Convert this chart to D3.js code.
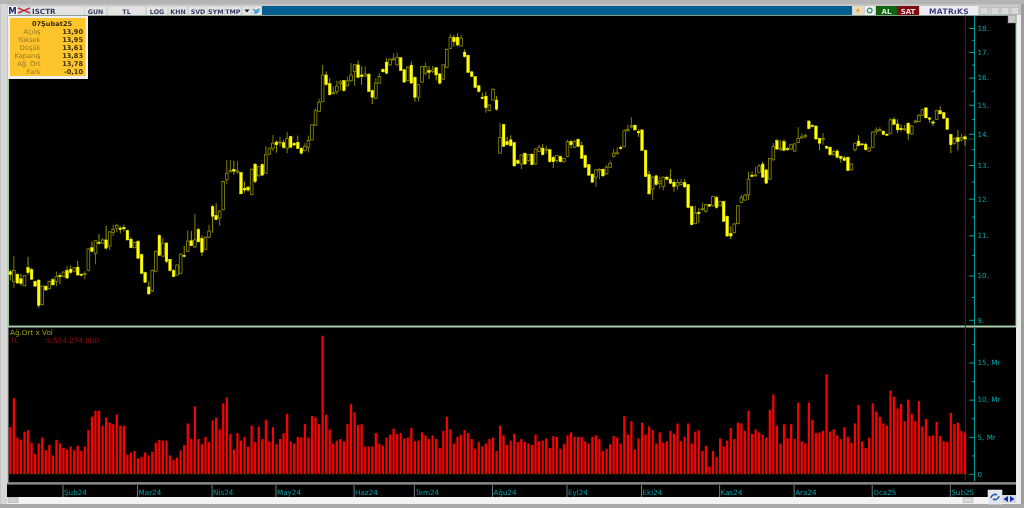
<!DOCTYPE html>
<html>
<head>
<meta charset="utf-8">
<script src="https://d3js.org/d3.v7.min.js"></script>
<style>
  html, body { margin: 0; padding: 0; background: #c4c4c4; overflow: hidden; }
  svg { display: block; filter: blur(0.35px); }
  text { font-family: "DejaVu Sans", sans-serif; }
</style>
</head>
<body>
<div class="chart-div"></div>
<script>
// open, high, low, close per trading day (ISCTR, daily)
const ohlc = [
[10.09,10.14,9.88,10.02],[9.86,10.47,9.71,10.12],[10.03,10.05,9.81,9.82],[9.92,10.04,9.76,9.81],[9.76,10.01,9.75,10.00],
[10.19,10.45,10.01,10.07],[10.14,10.18,9.90,9.91],[9.86,9.88,9.73,9.75],[9.89,9.91,9.26,9.31],[9.33,9.76,9.32,9.75],
[9.75,9.76,9.64,9.66],[9.69,9.88,9.67,9.86],[9.90,9.94,9.76,9.78],[9.86,10.09,9.75,9.97],[10.00,10.05,9.79,9.97],
[9.97,10.10,9.96,10.08],[10.12,10.22,9.91,9.94],[10.15,10.24,10.04,10.07],[10.10,10.20,10.07,10.18],[10.20,10.35,9.99,10.01],
[10.03,10.05,9.98,10.00],[10.03,10.10,9.91,10.05],[10.12,10.67,10.10,10.65],[10.68,10.84,10.57,10.59],[10.54,10.88,10.27,10.86],
[10.82,11.03,10.76,10.79],[10.80,10.92,10.78,10.88],[10.88,11.25,10.64,10.67],[10.72,11.11,10.62,11.09],[11.07,11.28,10.98,11.16],
[11.19,11.31,11.09,11.26],[11.19,11.25,11.05,11.15],[11.21,11.28,11.10,11.17],[11.13,11.15,10.87,10.88],[10.90,10.95,10.67,10.68],
[10.68,10.83,10.67,10.82],[10.84,10.88,10.39,10.42],[10.51,10.53,10.03,10.05],[10.07,10.09,9.82,9.84],[9.73,9.86,9.55,9.57],
[9.64,10.14,9.61,10.12],[10.10,10.61,10.07,10.59],[11.00,11.02,10.47,10.49],[10.47,10.93,10.45,10.80],[10.80,10.82,10.30,10.34],
[10.39,10.40,10.09,10.12],[10.12,10.15,9.96,9.97],[10.01,10.27,10.00,10.25],[10.05,10.54,10.03,10.52],[10.49,10.73,10.44,10.46],
[10.59,11.13,10.58,10.85],[10.86,11.11,10.72,10.73],[10.70,11.58,10.68,10.88],[11.16,11.19,10.82,10.83],[10.92,11.00,10.47,10.57],
[10.64,10.97,10.62,10.95],[10.95,11.28,10.93,11.11],[11.78,11.82,11.07,11.51],[11.53,11.87,11.40,11.42],[11.46,11.69,11.25,11.65],
[11.69,12.53,11.67,12.50],[12.55,13.16,12.43,12.75],[12.80,13.15,12.75,12.84],[12.87,13.13,12.70,12.81],[12.78,13.12,12.73,12.82],
[12.77,12.79,12.12,12.14],[12.30,12.50,12.17,12.25],[12.33,12.38,12.20,12.25],[12.12,12.89,12.10,12.87],[13.03,13.05,12.45,12.50],
[12.67,12.97,12.65,12.95],[13.02,13.05,12.67,12.69],[12.75,13.59,12.73,13.32],[13.34,13.55,13.32,13.53],[13.53,13.96,13.43,13.69],
[13.73,13.78,13.39,13.64],[13.70,13.90,13.59,13.73],[13.71,13.80,13.52,13.55],[13.53,14.07,13.37,13.85],[13.91,13.94,13.54,13.56],
[13.69,13.72,13.60,13.63],[13.72,13.94,13.50,13.52],[13.53,13.56,13.32,13.37],[13.46,13.69,13.43,13.59],[13.56,13.94,13.39,13.78],
[13.80,14.33,13.78,14.30],[14.29,14.87,14.26,14.79],[14.77,15.21,14.75,15.09],[15.11,16.49,15.09,16.10],[16.10,16.23,15.70,15.73],
[15.77,15.98,15.33,15.36],[15.40,15.67,15.37,15.44],[15.47,15.88,15.37,15.68],[15.77,15.91,15.52,15.84],[15.89,15.91,15.48,15.51],
[15.69,16.04,15.67,15.88],[15.88,16.56,15.85,16.10],[16.23,16.53,15.69,16.49],[16.49,16.66,15.98,16.01],[16.10,16.43,15.73,16.04],
[16.06,16.43,16.01,16.14],[16.13,16.17,15.46,15.48],[15.52,15.54,15.02,15.27],[15.23,15.98,15.21,15.79],[15.79,16.17,15.77,16.04],
[16.32,16.35,16.19,16.22],[16.60,16.75,16.12,16.17],[16.49,16.75,16.45,16.71],[16.69,16.95,16.66,16.73],[16.49,16.97,16.47,16.79],
[16.77,16.79,16.25,16.27],[16.30,16.32,15.80,15.83],[15.89,16.43,15.86,16.40],[16.48,16.62,15.77,15.79],[16.01,16.04,15.11,15.27],
[15.27,15.75,15.12,15.73],[15.83,16.45,15.80,16.43],[16.17,16.58,16.10,16.43],[16.27,16.45,15.94,16.20],[16.23,16.45,16.17,16.30],
[16.38,16.40,15.89,16.10],[16.14,16.17,15.74,15.79],[15.94,16.51,15.91,16.49],[16.40,17.15,16.36,17.11],[17.15,17.74,17.13,17.61],
[17.60,17.71,17.22,17.42],[17.61,17.78,17.22,17.29],[17.25,17.71,17.22,17.57],[17.00,17.11,16.78,16.82],[16.87,16.90,16.17,16.20],
[16.22,16.25,16.01,16.04],[16.04,16.06,15.60,15.63],[15.69,15.73,15.44,15.48],[15.27,15.44,15.20,15.22],[15.31,15.47,14.72,14.90],
[14.79,15.01,14.77,14.99],[15.17,15.60,15.15,15.56],[15.17,15.32,14.79,14.84],[13.37,14.37,13.35,13.88],[14.31,14.33,13.56,13.59],
[13.74,13.90,13.62,13.64],[13.80,13.95,13.59,13.61],[13.71,13.73,12.95,12.97],[13.14,13.18,13.03,13.05],[13.03,13.33,12.87,13.31],
[13.37,13.39,13.01,13.03],[13.14,13.34,13.11,13.32],[13.34,13.36,12.99,13.01],[13.03,13.52,13.01,13.50],[13.42,13.64,13.40,13.56],
[13.53,13.67,13.30,13.32],[13.46,13.61,13.35,13.50],[13.48,13.50,13.07,13.10],[13.24,13.29,12.91,13.10],[13.14,13.31,13.07,13.29],
[13.27,13.29,13.08,13.10],[13.10,13.23,13.07,13.21],[13.27,13.80,13.24,13.74],[13.74,13.80,13.53,13.64],[13.56,13.80,13.53,13.74],
[13.82,13.84,13.56,13.59],[13.61,13.74,13.19,13.21],[13.30,13.32,12.91,12.93],[13.01,13.03,12.67,12.69],[12.72,12.74,12.46,12.48],
[12.63,12.87,12.34,12.85],[12.82,12.90,12.57,12.86],[12.87,12.89,12.63,12.67],[12.73,13.00,12.71,12.93],[12.93,13.14,12.91,13.05],
[13.27,13.50,13.24,13.37],[13.35,13.56,13.33,13.40],[13.56,13.61,13.48,13.52],[13.59,14.15,13.56,14.10],[14.10,14.31,14.08,14.15],
[14.23,14.56,14.18,14.26],[14.29,14.31,14.10,14.13],[14.08,14.15,13.90,14.03],[14.13,14.15,13.44,13.46],[13.46,13.48,12.63,12.65],
[12.71,12.82,12.10,12.14],[12.28,12.65,11.96,12.63],[12.67,12.70,12.38,12.41],[12.44,12.65,12.28,12.51],[12.35,12.65,12.24,12.63],
[12.63,12.67,12.53,12.57],[12.57,12.87,12.43,12.45],[12.48,12.57,12.20,12.35],[12.37,12.57,12.25,12.47],[12.41,12.57,12.37,12.47],
[12.47,12.57,12.32,12.34],[12.41,12.43,11.73,11.75],[11.78,11.80,11.26,11.28],[11.31,11.80,11.29,11.60],[11.62,11.74,11.33,11.58],
[11.69,11.89,11.65,11.72],[11.65,11.85,11.60,11.83],[11.83,11.85,11.77,11.79],[11.80,12.08,11.78,12.06],[12.03,12.08,11.72,11.75],
[11.80,11.94,11.78,11.92],[11.92,11.94,11.35,11.37],[11.51,11.53,10.97,10.98],[11.05,11.24,10.90,10.98],[11.07,11.33,11.05,11.30],
[11.31,11.82,11.29,11.80],[11.89,12.12,11.87,12.04],[11.96,12.14,11.94,12.10],[12.11,12.80,11.96,12.57],[12.69,12.80,12.63,12.65],
[12.67,12.95,12.63,12.70],[12.77,13.03,12.75,12.97],[13.03,13.10,12.61,12.63],[12.85,12.87,12.43,12.45],[12.57,13.22,12.55,13.20],
[13.16,13.69,13.14,13.59],[13.77,13.84,13.48,13.50],[13.48,13.80,13.46,13.53],[13.74,13.82,13.44,13.46],[13.52,13.56,13.44,13.48],
[13.50,13.67,13.48,13.64],[13.44,13.69,13.41,13.67],[13.71,14.22,13.69,13.85],[13.86,14.01,13.84,13.90],[13.90,14.01,13.85,13.94],
[14.43,14.47,14.15,14.17],[14.29,14.31,14.22,14.24],[14.26,14.29,13.80,13.83],[13.85,13.87,13.46,13.69],[13.81,14.03,13.64,13.85],
[13.59,13.61,13.50,13.53],[13.56,13.59,13.29,13.32],[13.32,13.48,13.29,13.42],[13.44,13.50,13.21,13.24],[13.27,13.29,13.07,13.20],
[13.22,13.29,13.12,13.14],[13.24,13.27,12.81,12.83],[12.85,13.05,12.83,13.03],[13.48,13.71,13.42,13.69],[13.76,13.95,13.59,13.61],
[13.67,13.69,13.61,13.64],[13.66,13.71,13.46,13.48],[13.44,13.56,13.41,13.54],[13.56,14.08,13.54,14.06],[14.08,14.22,13.95,14.13],
[14.10,14.22,14.08,14.14],[14.09,14.11,13.96,13.98],[13.99,14.01,13.93,13.95],[14.01,14.53,13.99,14.47],[14.48,14.56,14.29,14.32],
[14.33,14.49,14.03,14.13],[14.18,14.30,14.07,14.14],[14.14,14.30,14.09,14.17],[14.36,14.38,13.80,14.01],[13.99,14.30,13.97,14.26],
[14.39,14.47,14.36,14.43],[14.41,14.68,14.39,14.63],[14.63,14.85,14.61,14.82],[14.89,14.91,14.52,14.54],[14.54,14.56,14.38,14.49],
[14.40,14.47,14.26,14.36],[14.49,14.82,14.47,14.79],[14.79,14.95,14.66,14.68],[14.72,14.75,14.49,14.53],[14.53,14.55,14.13,14.15],
[13.98,14.01,13.37,13.64],[13.69,13.87,13.64,13.85],[13.87,14.13,13.46,13.74],[13.80,14.01,13.74,13.88],[13.90,13.95,13.61,13.83]
];

// weighted average x volume per day, in billions (Mr)
const volumes = [
6.3,10.2,4.9,4.6,5.7,5.9,4.2,2.7,4.1,4.9,3.2,3.9,2.5,4.6,4.1,3.5,3.3,3.7,3.2,3.8,3.1,3.7,5.9,7.7,8.5,8.5,6.5,7.6,6.9,6.7,
8.0,6.5,6.5,2.6,2.9,3.1,2.1,2.3,2.9,2.5,3.0,4.2,4.6,4.5,4.5,2.5,1.9,2.2,3.2,3.9,6.8,4.7,9.1,4.7,4.0,5.0,4.3,7.2,7.6,6.0,
9.5,10.3,5.4,3.3,5.5,4.5,5.0,3.7,6.5,4.3,6.4,4.7,7.3,4.4,6.3,4.0,4.7,5.5,8.1,4.4,4.1,5.0,4.9,6.7,4.9,7.8,7.6,6.7,18.6,8.0,
6.0,4.1,4.5,
4.7,4.4,6.7,9.4,8.3,6.6,6.7,3.7,3.7,3.7,5.5,4.1,3.8,4.9,5.3,6.1,5.4,5.5,4.8,4.9,6.2,4.4,4.5,5.6,5.2,4.7,5.2,4.7,3.5,5.8,
7.7,6.0,4.1,5.0,5.3,5.9,5.5,4.7,3.4,4.3,3.7,4.1,4.7,4.9,3.1,6.5,5.2,3.9,4.5,5.4,4.3,4.7,4.3,4.1,3.9,5.3,4.4,4.5,4.8,3.5,
5.1,5.0,3.4,4.0,5.2,5.6,5.0,5.0,5.0,4.4,4.1,5.0,5.2,4.7,3.1,3.4,4.0,5.1,4.9,4.1,7.8,5.3,7.1,3.3,4.8,6.9,5.3,6.4,5.9,4.1,
5.6,4.2,4.4,5.8,5.4,6.8,
4.4,5.0,6.8,4.1,5.7,5.9,3.1,3.8,1.0,3.1,2.3,4.8,3.7,4.5,6.2,4.7,6.9,6.8,5.8,8.5,5.4,6.0,5.6,5.3,4.9,8.6,10.7,6.5,4.1,6.7,
4.8,6.7,4.7,9.6,4.4,4.1,9.6,7.3,5.5,5.6,5.8,13.4,5.7,6.0,5.2,4.7,6.3,5.0,4.2,6.8,9.3,4.4,3.5,4.9,9.5,8.4,7.7,6.8,6.5,11.2,
10.4,8.8,9.4,7.1,10.0,8.1,7.1,9.8,6.4,7.4,5.1,5.2,7.0,5.1,4.4,4.3,8.2,6.7,6.9,5.8,5.6
];

// month labels on the date strip and the bar each month starts at
const monthLabels = ["Şub24","Mar24","Nis24","May24","Haz24","Tem24","Ağu24","Eyl24","Eki24","Kas24","Ara24","Oca25","Şub25"];
const monthStarts = [15,36,57,75,97,114,136,157,178,200,221,243,265];

const priceTicks = [9,10,11,12,13,14,15,16,17,18];
const priceMinorTicks = [9.5,10.5,11.5,12.5,13.5,14.5,15.5,16.5,17.5];
const volumeTicks = [0,5,10,15];
const volumeMinorTicks = [2.5,7.5,12.5,17.5];

// values of the last day, shown in the orange box
const infoTitle = "07Şubat25";
const infoLabels = ["Açılış","Yüksek","Düşük","Kapanış","Ağ. Ort","Fark"];
const infoValues = ["13,90","13,95","13,61","13,83","13,78","-0,10"];

const toolbarLabels = ["GUN","TL","LOG","KHN","SVD","SYM","TMP"];
const toolbarLefts = [85,108,147,169,189,208,225];
const toolbarWidths = [21,37,20,18,18,15.5,15.5];

const svg = d3
  .select(".chart-div")
  .append("svg")
  .attr("width", 1024)
  .attr("height", 508);

const n = ohlc.length;
// set the ranges
const x = d3.scaleLinear().domain([0, n - 1]).range([10.3, 965]);
const y = d3.scaleLog().domain([9, 18]).range([319.8, 28]);
const yVol = d3.scaleLinear().domain([0, 15]).range([474, 362.5]);

function box(parent, left, top, w, h, fill) {
  return parent.append("rect").attr("x", left).attr("y", top).attr("width", w).attr("height", h).attr("fill", fill);
}

// window frame
box(svg, 0, 0, 1024, 508, "#c4c4c4");
box(svg, 1, 0, 6, 508, "#d6d6d6");
box(svg, 1016, 15, 5, 490, "#ececec");
box(svg, 1021, 0, 3, 508, "#9c9c9c");
box(svg, 0, 0, 1024, 4, "#b4b4b4");
box(svg, 0, 504, 1024, 4, "#a8a8a8");

// price panel and volume panel
box(svg, 8.5, 15, 1007.5, 311, "#000").attr("stroke", "#8fd08f").attr("stroke-width", 1);
box(svg, 8.5, 327.5, 1007.5, 155, "#000");
box(svg, 7, 482.5, 1009, 2, "#8c8c8c");
box(svg, 7, 484.5, 1009, 13, "#000");

// toolbar
const toolbar = svg.append("g");
box(toolbar, 7, 6, 1010, 9.5, "#cfd3d6");
box(toolbar, 8, 6, 9.5, 9, "#f4f4f4");
toolbar.append("text").attr("x", 12.5).attr("y", 14).attr("text-anchor", "middle")
  .attr("font-size", 8.5).attr("font-weight", "bold").attr("fill", "#23236b").text("M");
box(toolbar, 18, 7, 12, 7, "#d8d8e8");
toolbar.append("path").attr("d", "M18 8L24 10.5L18 13M30 8L24 10.5L30 13").attr("fill", "none").attr("stroke", "#c03040").attr("stroke-width", 1.4);
box(toolbar, 31, 6.5, 53, 8.5, "#e4e4e4");
toolbar.append("text").attr("x", 32).attr("y", 13.5).attr("font-size", 7.2).attr("font-weight", "bold").attr("fill", "#3a3a60").text("ISCTR");
toolbarLabels.forEach((label, i) => {
  box(toolbar, toolbarLefts[i], 6.5, toolbarWidths[i], 8.5, "#e4e4e4");
  toolbar.append("text").attr("x", toolbarLefts[i] + toolbarWidths[i] / 2).attr("y", 13.5).attr("text-anchor", "middle")
    .attr("font-size", 6.3).attr("font-weight", "bold").attr("fill", "#3a3a60").text(label);
});
box(toolbar, 243, 6.5, 8, 8.5, "#e4e4e4");
toolbar.append("path").attr("d", "M244.5 9.5h5l-2.5 3z").attr("fill", "#10103a");
box(toolbar, 252, 6.5, 9, 8.5, "#e4e4e4");
toolbar.append("path").attr("d", "M253 8.5l3 1.5 4-2-1 4-3 2-3-1 2-1-2-2z").attr("fill", "#3f9fdc");
box(toolbar, 262, 6, 590, 9, "#035e8f");
box(toolbar, 853, 6, 10.5, 9, "#e8dcc0");
toolbar.append("path").attr("d", "M859 7l-3 4h2l-1 3 3-4h-2z").attr("fill", "#f09010");
box(toolbar, 865, 6, 9.5, 9, "#f0f0f0");
toolbar.append("circle").attr("cx", 869.7).attr("cy", 10.5).attr("r", 2.4).attr("fill", "none").attr("stroke", "#2a9060").attr("stroke-width", 1.2);
box(toolbar, 876, 6, 21, 9, "#0d640d");
box(toolbar, 897, 6, 22, 9, "#7d0c14");
toolbar.append("text").attr("x", 886.5).attr("y", 13.5).attr("text-anchor", "middle").attr("font-size", 7).attr("font-weight", "bold").attr("fill", "#d8f0d8").text("AL");
toolbar.append("text").attr("x", 908).attr("y", 13.5).attr("text-anchor", "middle").attr("font-size", 7).attr("font-weight", "bold").attr("fill", "#f8d8d8").text("SAT");
box(toolbar, 920, 6, 58, 9, "#ececf2");
toolbar.append("text").attr("x", 949).attr("y", 13.7).attr("text-anchor", "middle").attr("font-size", 7.5).attr("font-weight", "bold").attr("letter-spacing", 0.4).attr("fill", "#3c3c80").text("MATRıKS");
[980, 991, 1001, 1011].forEach(left => {
  box(toolbar, left, 7.5, 8, 7, "#d8d8d8").attr("stroke", "#a0a0a0").attr("stroke-width", 0.5);
});
box(svg, 1008, 15, 8, 8, "#c8c8c8").attr("stroke", "#808080").attr("stroke-width", 0.5);

// price axis
const priceAxis = svg.append("g").attr("transform", "translate(974.5,0)");
priceAxis.append("g")
  .call(d3.axisRight(y).tickValues(priceTicks).tickSize(-5.5).tickPadding(3).tickFormat(d => d + "."));
priceAxis.append("g")
  .call(d3.axisRight(y).tickValues(priceMinorTicks).tickSize(-2.5).tickFormat(""));
priceAxis.selectAll(".domain").remove();
priceAxis.append("line").attr("y1", 15.5).attr("y2", 325.5);

// volume axis
const volumeAxis = svg.append("g").attr("transform", "translate(974.5,0)");
volumeAxis.append("g")
  .call(d3.axisRight(yVol).tickValues(volumeTicks).tickSize(-5.5).tickPadding(3)
    .tickFormat(d => (d === 0 ? "0" : d + ", Mr")));
volumeAxis.append("g")
  .call(d3.axisRight(yVol).tickValues(volumeMinorTicks).tickSize(-2.5).tickFormat(""));
volumeAxis.selectAll(".domain").remove();
volumeAxis.append("line").attr("y1", 328).attr("y2", 481);

svg.selectAll("g g .tick text")
  .attr("font-family", "\"DejaVu Sans\", sans-serif")
  .attr("font-size", 7.2)
  .attr("fill", "#00a6a6");
priceAxis.selectAll("line").attr("stroke", "#00a0a0");
volumeAxis.selectAll("line").attr("stroke", "#00a0a0");

// marker of the current bar
svg.append("line").attr("x1", 965.4).attr("x2", 965.4).attr("y1", 15.5).attr("y2", 481)
  .attr("stroke", "#4a1460").attr("stroke-width", 1);
svg.append("line").attr("x1", x(n - 1)).attr("x2", 974).attr("y1", y(ohlc[n - 1][3])).attr("y2", y(ohlc[n - 1][3]))
  .attr("stroke", "#0e7a0e").attr("stroke-width", 0.8);

// candle wicks
const candles = svg.append("g");
candles
  .selectAll("line")
  .data(ohlc)
  .join("line")
  .attr("x1", (d, i) => x(i))
  .attr("x2", (d, i) => x(i))
  .attr("y1", d => y(d[1]))
  .attr("y2", d => y(d[2]))
  .attr("stroke", d => (d[3] >= d[0] ? "#8a8a00" : "#a8a800"))
  .attr("stroke-width", 0.9);

// candle bodies: falling days solid, rising days hollow
const bodyWidth = 2.7;
candles
  .selectAll("rect")
  .data(ohlc)
  .join("rect")
  .attr("x", (d, i) => x(i) - bodyWidth / 2)
  .attr("y", d => y(Math.max(d[0], d[3])))
  .attr("width", bodyWidth)
  .attr("height", d => Math.max(1, y(Math.min(d[0], d[3])) - y(Math.max(d[0], d[3]))))
  .attr("fill", d => (d[3] >= d[0] ? "#000" : "#ffff00"))
  .attr("stroke", d => (d[3] >= d[0] ? "#8f8f00" : "#ffff00"))
  .attr("stroke-width", d => (d[3] >= d[0] ? 0.8 : 0.4));

// volume bars
svg.append("g")
  .selectAll("rect")
  .data(volumes)
  .join("rect")
  .attr("x", (d, i) => x(i) - 1.1)
  .attr("y", d => yVol(d))
  .attr("width", 2.2)
  .attr("height", d => yVol(0) - yVol(d))
  .attr("fill", "#ff0000");
svg.append("line").attr("x1", 9).attr("x2", 974).attr("y1", yVol(0)).attr("y2", yVol(0))
  .attr("stroke", "#3c3000").attr("stroke-width", 0.8);

// volume caption
svg.append("text").attr("x", 10).attr("y", 335).attr("font-size", 7.2).attr("fill", "#a3a300").text("Ağ.Ort x Vol");
svg.append("text").attr("x", 10).attr("y", 343).attr("font-size", 7.2).attr("fill", "#a80000").text("TL");
svg.append("text").attr("x", 44).attr("y", 343).attr("font-size", 7.2).attr("fill", "#a80000").text(":5.524.274.000");

// date strip
const months = svg.append("g");
monthStarts.forEach((start, i) => {
  months.append("line").attr("x1", x(start) - 0.5).attr("x2", x(start) - 0.5).attr("y1", 485).attr("y2", 497)
    .attr("stroke", "#707880").attr("stroke-width", 1);
  months.append("text").attr("x", x(start) + 0.5).attr("y", 495).attr("font-size", 7.2)
    .attr("fill", "#00a0a8").text(monthLabels[i]);
});

// scrollbar and navigation buttons
box(svg, 7, 497, 1009, 7, "#f2f2f2");
box(svg, 8, 497.5, 10, 5, "#d0d0d0").attr("stroke", "#a0a0a0").attr("stroke-width", 0.5);
box(svg, 963, 497.5, 10, 5, "#d8d8d8").attr("stroke", "#a0a0a0").attr("stroke-width", 0.5);
box(svg, 988, 490, 14, 14, "#e0e4ec").attr("stroke", "#ffffff").attr("stroke-width", 0.5);
svg.append("path").attr("d", "M991 498a4 4 0 0 1 6-3M999 496a4 4 0 0 1-6 3").attr("fill", "none").attr("stroke", "#1f5fb0").attr("stroke-width", 1.6);
box(svg, 1002, 495, 7, 8, "#d8d8e0");
box(svg, 1009, 495, 7, 8, "#d8d8e0");
svg.append("path").attr("d", "M1008 496v6l-4.5-3z").attr("fill", "#1030b0");
svg.append("path").attr("d", "M1010 496v6l4.5-3z").attr("fill", "#1030b0");

// orange info box
const info = svg.append("g");
box(info, 8, 16, 80, 63, "#efefef");
box(info, 10, 18, 75.5, 58, "#fdc52b");
info.append("text").attr("x", 52).attr("y", 26).attr("text-anchor", "middle").attr("font-size", 6.6).attr("font-weight", "bold").attr("fill", "#3a2e00").text(infoTitle);
infoLabels.forEach((label, i) => {
  info.append("text").attr("x", 40.5).attr("y", 33.5 + i * 8).attr("text-anchor", "end").attr("font-size", 6.6).attr("fill", "#907820").text(label);
  info.append("text").attr("x", 83).attr("y", 33.5 + i * 8).attr("text-anchor", "end").attr("font-size", 6.6).attr("font-weight", "bold").attr("fill", "#3a2e00").text(infoValues[i]);
});
</script>
</body>
</html>
